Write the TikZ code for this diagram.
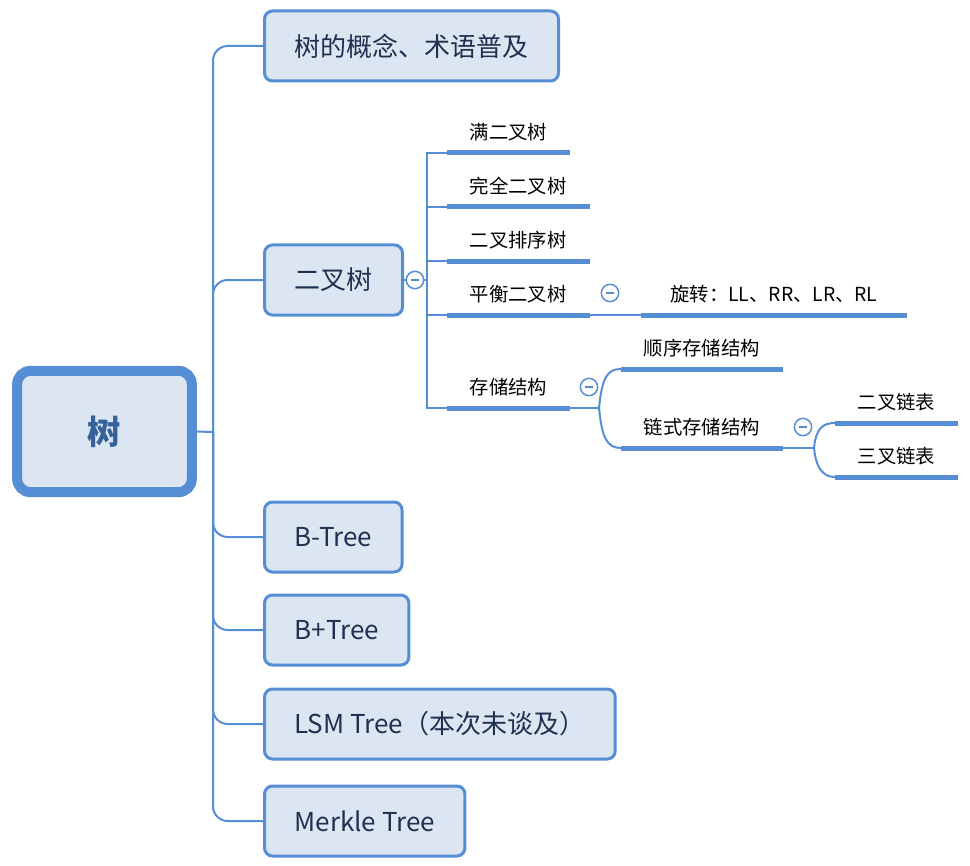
\documentclass[tikz,border=0pt]{standalone}
\usepackage{fontspec}
\setmainfont{Noto Sans CJK SC}
\usetikzlibrary{positioning}
\definecolor{xblue}{HTML}{558ED5}
\definecolor{xfill}{HTML}{DCE6F2}
\definecolor{xnavy}{HTML}{1F3050}
\definecolor{xroot}{HTML}{35629A}
\tikzset{
  rootbox/.style={draw=xblue, fill=xfill, line width=7.5pt, rounded corners=10pt,
    minimum width=131pt, minimum height=91pt, text=xroot,
    font=\fontsize{25}{30}\selectfont\bfseries},
  topic/.style={draw=xblue, fill=xfill, line width=2.25pt, rounded corners=6pt,
    inner xsep=22.5pt, minimum height=52.5pt, anchor=west, text=xnavy,
    font=\fontsize{19.5}{23}\selectfont},
  leaf/.style={inner xsep=17pt, inner ysep=0pt, minimum height=31.5pt,
    anchor=south west, font=\fontsize{14.5}{17}\selectfont},
  uline/.style={draw=xblue, line width=3.75pt},
  link/.style={draw=xblue, line width=1.5pt},
  fold/.style={circle, draw=xblue, line width=1.1pt, fill=white, inner sep=0pt,
    minimum size=13pt, path picture={
      \draw[xblue!80!gray, line width=1.3pt]
        ([xshift=-3pt]path picture bounding box.center) --
        ([xshift=3pt]path picture bounding box.center);}}
}
\begin{document}
\begin{tikzpicture}[x=0.75pt,y=-0.75pt]
  \useasboundingbox (0,0) rectangle (970,866);
  % main topics
  \node[rootbox] (root) at (104.5,431.5) {树};
  \coordinate (trunk) at (213,432);
  \node[topic] (concept) at (263,46) {树的概念、术语普及};
  \node[topic] (bt) at (263,280) {二叉树};
  \node[topic] (btree) at (263,537) {B-Tree};
  \node[topic] (bptree) at (263,630) {B+Tree};
  \node[topic] (lsm) at (263,724) {LSM Tree（本次未谈及）};
  \node[topic] (merkle) at (263,821) {Merkle Tree};
  \draw[link] (root.east) -- (trunk);
  \foreach \n in {concept,bt,btree,bptree,lsm,merkle}
    \draw[link, rounded corners=11pt] (trunk) |- (\n.west);
  % binary tree
  \node[fold] (c1) at (415,280) {};
  \coordinate (bj) at (427,280);
  \draw[link] (bt.east) -- (c1);
  \draw[link] (c1) -- (bj);
  \node[leaf] (full) at (447,153) {满二叉树};
  \node[leaf] (complete) at (447,207) {完全二叉树};
  \node[leaf] (sortt) at (447,261) {二叉排序树};
  \node[leaf] (balance) at (447,315) {平衡二叉树};
  \node[leaf] (storage) at (447,408) {存储结构};
  \foreach \n in {full,complete,sortt,balance,storage}
    \draw[link] (bj) |- (\n.south west);
  % balanced tree
  \node[fold] (c2) at (610,293) {};
  \node[leaf, minimum width=199pt] (rotate) at (641,315) {旋转：LL、RR、LR、RL};
  \draw[link] (balance.south east) -- (rotate.south west);
  % storage
  \node[fold] (c3) at (589,387) {};
  \coordinate (sj) at (599,408);
  \node[leaf] (seq) at (621,369) {顺序存储结构};
  \node[leaf] (linked) at (621,448) {链式存储结构};
  \draw[link] (storage.south east) -- (sj);
  \draw[link] (sj) .. controls +(3,-30) and +(-14,0) .. (seq.south west);
  \draw[link] (sj) .. controls +(3,30) and +(-14,0) .. (linked.south west);
  % linked storage
  \node[fold] (c4) at (803,427) {};
  \coordinate (lj) at (814,448);
  \node[leaf] (bilink) at (835,423) {二叉链表};
  \node[leaf] (trilink) at (835,477) {三叉链表};
  \draw[link] (linked.south east) -- (lj);
  \draw[link] (lj) .. controls +(2,-20) and +(-12,0) .. (bilink.south west);
  \draw[link] (lj) .. controls +(2,20) and +(-12,0) .. (trilink.south west);
  % underlines
  \foreach \n in {full,complete,sortt,balance,storage,rotate,seq,linked,bilink,trilink}
    \draw[uline] (\n.south west) -- (\n.south east);
\end{tikzpicture}
\end{document}
